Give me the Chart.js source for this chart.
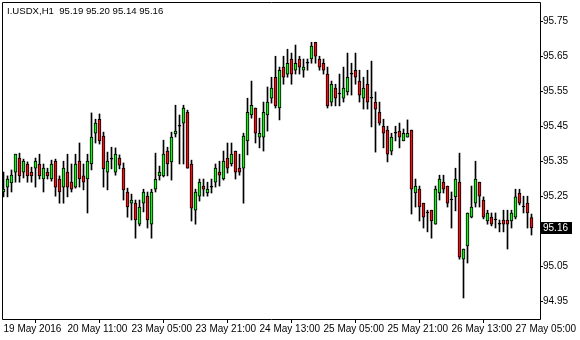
<!DOCTYPE html>
<html><head><meta charset="utf-8">
<script src="https://cdn.jsdelivr.net/npm/chart.js@4.4.1/dist/chart.umd.min.js"></script>
<style>html,body{margin:0;padding:0;background:#fff}#wrap{width:580px;height:340px;position:relative}</style>
</head><body><div id="wrap"><canvas id="c"></canvas></div>
<script>
const chartTitle = 'I.USDX,H1  95.19 95.20 95.14 95.16';

const openP = [95.263,95.277,95.289,95.320,95.360,95.320,95.343,95.320,95.331,95.343,
95.300,95.320,95.300,95.351,95.300,95.277,95.320,95.291,95.277,95.351,
95.309,95.300,95.343,95.431,95.471,95.423,95.320,95.357,95.320,95.360,
95.331,95.263,95.231,95.231,95.171,95.231,95.251,95.171,95.271,95.309,
95.309,95.380,95.349,95.429,95.451,95.460,95.491,95.343,95.211,95.251,
95.280,95.260,95.277,95.291,95.320,95.300,95.360,95.343,95.380,95.331,
95.331,95.409,95.483,95.503,95.420,95.420,95.483,95.531,95.591,95.503,
95.620,95.600,95.643,95.611,95.643,95.611,95.631,95.643,95.691,95.643,
95.631,95.600,95.520,95.560,95.543,95.531,95.549,95.600,95.611,95.580,
95.531,95.571,95.531,95.520,95.491,95.451,95.440,95.380,95.431,95.437,
95.409,95.420,95.440,95.260,95.271,95.231,95.203,95.211,95.171,95.260,
95.291,95.280,95.240,95.249,95.291,95.071,95.109,95.191,95.231,95.291,
95.240,95.180,95.191,95.183,95.171,95.183,95.183,95.180,95.191,95.260,
95.220,95.231,95.19];

const highP = [95.320,95.309,95.326,95.371,95.374,95.357,95.349,95.334,95.360,95.371,
95.343,95.331,95.354,95.357,95.309,95.351,95.371,95.343,95.371,95.403,
95.343,95.371,95.489,95.471,95.486,95.434,95.377,95.391,95.389,95.369,
95.346,95.274,95.257,95.240,95.240,95.271,95.263,95.271,95.374,95.337,
95.411,95.391,95.434,95.511,95.483,95.511,95.497,95.354,95.271,95.300,
95.300,95.291,95.300,95.343,95.351,95.380,95.403,95.403,95.380,95.371,
95.431,95.531,95.580,95.503,95.474,95.520,95.563,95.591,95.651,95.620,
95.651,95.671,95.660,95.683,95.651,95.643,95.643,95.691,95.691,95.651,
95.643,95.620,95.580,95.571,95.600,95.620,95.660,95.631,95.660,95.611,
95.591,95.611,95.637,95.549,95.520,95.471,95.451,95.431,95.451,95.460,
95.443,95.469,95.440,95.300,95.280,95.231,95.211,95.211,95.280,95.311,
95.311,95.280,95.263,95.331,95.374,95.100,95.203,95.280,95.351,95.291,
95.249,95.211,95.203,95.203,95.183,95.211,95.211,95.211,95.271,95.271,
95.251,95.251,95.20];

const lowP = [95.249,95.249,95.263,95.291,95.291,95.303,95.291,95.291,95.277,95.300,
95.263,95.300,95.294,95.251,95.231,95.231,95.249,95.263,95.274,95.277,
95.269,95.203,95.326,95.403,95.400,95.277,95.269,95.329,95.311,95.329,
95.240,95.191,95.183,95.131,95.166,95.206,95.160,95.131,95.263,95.297,
95.306,95.309,95.297,95.420,95.343,95.343,95.331,95.180,95.171,95.237,
95.251,95.251,95.260,95.277,95.280,95.297,95.317,95.337,95.300,95.311,
95.231,95.369,95.474,95.403,95.389,95.380,95.437,95.517,95.503,95.469,
95.571,95.591,95.571,95.600,95.600,95.591,95.611,95.631,95.631,95.611,
95.600,95.503,95.509,95.509,95.509,95.520,95.540,95.540,95.571,95.520,
95.500,95.500,95.449,95.377,95.454,95.389,95.349,95.369,95.409,95.389,
95.409,95.420,95.200,95.220,95.180,95.160,95.149,95.131,95.171,95.240,
95.260,95.220,95.160,95.209,95.071,94.960,95.060,95.189,95.220,95.220,
95.186,95.171,95.166,95.160,95.149,95.149,95.100,95.160,95.186,95.226,
95.203,95.160,95.14];

const closeP = [95.271,95.300,95.311,95.371,95.309,95.351,95.309,95.309,95.351,95.309,
95.331,95.309,95.343,95.277,95.263,95.331,95.277,95.271,95.343,95.300,
95.291,95.351,95.420,95.460,95.409,95.329,95.351,95.357,95.371,95.340,
95.269,95.220,95.240,95.183,95.220,95.263,95.183,95.263,95.300,95.320,
95.371,95.343,95.420,95.437,95.451,95.503,95.331,95.217,95.263,95.291,
95.271,95.271,95.277,95.331,95.311,95.351,95.331,95.371,95.320,95.320,
95.423,95.491,95.511,95.431,95.431,95.491,95.520,95.560,95.509,95.611,
95.591,95.631,95.600,95.631,95.620,95.620,95.631,95.680,95.651,95.620,
95.611,95.509,95.571,95.531,95.543,95.560,95.591,95.600,95.591,95.540,
95.560,95.520,95.531,95.500,95.460,95.431,95.371,95.420,95.431,95.420,
95.431,95.431,95.271,95.280,95.220,95.191,95.203,95.180,95.271,95.300,
95.271,95.231,95.240,95.300,95.077,95.100,95.203,95.220,95.300,95.251,
95.191,95.203,95.171,95.183,95.171,95.171,95.171,95.203,95.249,95.231,
95.220,95.203,95.16];

const xTickLabels = ['19 May 2016','20 May 11:00','23 May 05:00','23 May 21:00','24 May 13:00','25 May 05:00','25 May 21:00','26 May 13:00','27 May 05:00'];
const xTickStep = 16;
const yTickValues = [94.95,95.05,95.15,95.25,95.35,95.45,95.55,95.65,95.75];

const BULL = '#14f014', BEAR = '#f01010', INK = '#000000';
const FONT = "'Liberation Sans', Arial, sans-serif";
const lastPrice = closeP[closeP.length - 1];

const idx = openP.map((_, i) => i);
const wickData = idx.map(i => ({x: i, y: [lowP[i], highP[i]]}));
const bodyData = idx.map(i => ({x: i, y: [openP[i], closeP[i]]}));
const bodyColors = idx.map(i => closeP[i] > openP[i] ? BULL : (closeP[i] < openP[i] ? BEAR : INK));

const overlay = {
  id: 'overlay',
  afterDraw(chart) {
    const {ctx, chartArea: a, scales} = chart;
    ctx.save();
    ctx.strokeStyle = INK; ctx.lineWidth = 1;
    ctx.beginPath();
    ctx.moveTo(a.left + 0.5, a.top + 0.5); ctx.lineTo(a.right + 0.5, a.top + 0.5);
    ctx.lineTo(a.right + 0.5, a.bottom + 0.5); ctx.lineTo(a.left + 0.5, a.bottom + 0.5);
    ctx.closePath(); ctx.stroke();
    ctx.fillStyle = INK; ctx.font = '9.6px ' + FONT;
    ctx.textBaseline = 'middle'; ctx.textAlign = 'left';
    ctx.fillText(chartTitle, 7, 11);
    ctx.font = '10px ' + FONT;
    const py = Math.round(scales.y.getPixelForValue(lastPrice));
    ctx.fillRect(a.right + 1, py - 6, 31, 12);
    ctx.fillStyle = '#ffffff';
    ctx.fillText(lastPrice.toFixed(2), a.right + 3, py + 0.5);
    ctx.restore();
  }
};

Chart.defaults.font.family = FONT;
Chart.defaults.font.size = 10;
Chart.defaults.color = INK;

new Chart(document.getElementById('c'), {
  type: 'bar',
  data: {
    datasets: [
      {data: bodyData, backgroundColor: bodyColors, borderColor: INK, borderWidth: 1,
       borderSkipped: false, barThickness: 3, minBarLength: 1, grouped: false},
      {data: wickData, backgroundColor: INK, borderWidth: 0, barThickness: 1, grouped: false}
    ]
  },
  options: {
    responsive: true, maintainAspectRatio: false, animation: false, devicePixelRatio: 1,
    events: [],
    layout: {padding: {left: 2, top: 2, right: 0, bottom: 0}},
    plugins: {legend: {display: false}, tooltip: {enabled: false}, title: {display: false}},
    scales: {
      x: {
        type: 'linear', min: -0.375, max: 134.125, offset: false,
        afterBuildTicks: s => { s.ticks = xTickLabels.map((_, k) => ({value: k * xTickStep})); },
        afterFit: s => { s.height = 21; s.paddingLeft = 0; s.paddingRight = 0; s.paddingTop = 0; s.paddingBottom = 0; },
        grid: {drawOnChartArea: false, drawTicks: true, tickLength: 4, color: INK},
        border: {display: false},
        ticks: {autoSkip: false, maxRotation: 0, minRotation: 0, align: 'start', padding: 0,
                callback: (v, i) => xTickLabels[i], color: INK, font: {size: 10}}
      },
      y: {
        position: 'right', min: 94.9, max: 95.806,
        afterBuildTicks: s => { s.ticks = yTickValues.map(v => ({value: v})); },
        afterFit: s => { s.width = 40; s.paddingLeft = 0; s.paddingRight = 0; s.paddingTop = 0; s.paddingBottom = 0; },
        grid: {drawOnChartArea: false, drawTicks: true, tickLength: 3, color: INK},
        border: {display: false},
        ticks: {padding: 0, callback: v => v.toFixed(2), color: INK, font: {size: 10}}
      }
    }
  },
  plugins: [overlay]
});
</script>
</body></html>
